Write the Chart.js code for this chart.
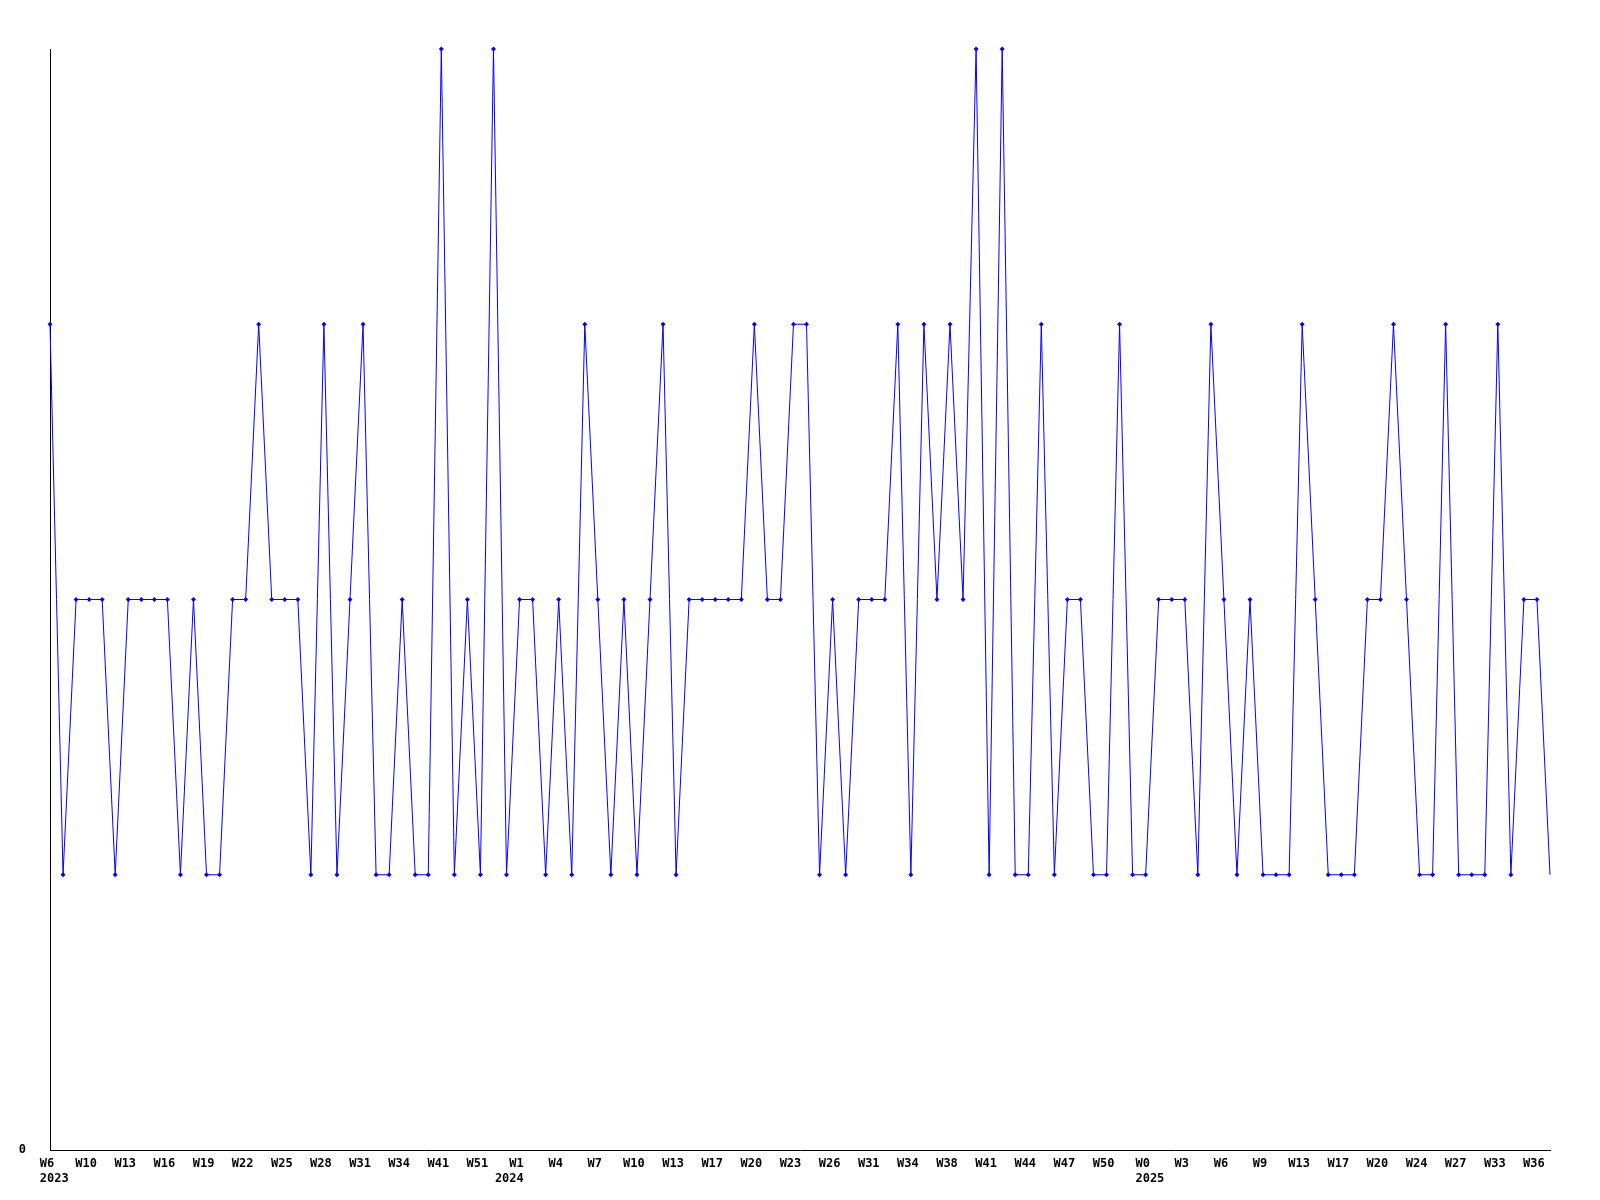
<!DOCTYPE html>
<html>
<head>
<meta charset="utf-8">
<script src="https://cdn.jsdelivr.net/npm/chart.js@4/dist/chart.umd.min.js"></script>
<style>
  html, body { margin: 0; padding: 0; background: #ffffff; }
  #wrap { position: relative; width: 1600px; height: 1200px; }
</style>
</head>
<body>
<div id="wrap"><canvas id="c" width="1600" height="1200"></canvas></div>
<script>
// Week categories (one per data point)
const weeks = [
  'W6','W7','W8','W10','W11','W12','W13','W14','W15','W16','W17','W18','W19','W20','W21','W22','W23','W24','W25','W26',
  'W27','W28','W29','W30','W31','W32','W33','W34','W36','W39','W41','W44','W48','W51','W52',
  'W0','W1','W2','W3','W4','W5','W6','W7','W8','W9','W10','W11','W12','W13','W14','W15','W17','W18','W19','W20',
  'W21','W22','W23','W24','W25','W26','W28','W30','W31','W32','W33','W34','W35','W37','W38','W39','W40','W41','W42',
  'W43','W44','W45','W46','W47','W48','W49','W50','W51','W52',
  'W0','W1','W2','W3','W4','W5','W6','W7','W8','W9','W10','W12','W13','W14','W16','W17','W18','W19','W20','W21',
  'W23','W24','W25','W26','W27','W29','W31','W33','W34','W35','W36','W37'
];
// Year shown under the first labelled week of each year: [category index, year text]
const yearTicks = [[0, '  2023'], [36, '2024  '], [84, '  2025']];
// Values per week
const values = [
  3,1,2,2,2,1,2,2,2,2, 1,2,1,1,2,2,3,2,2,2,
  1,3,1,2,3,1,1,2,1,1, 4,1,2,1,4,1,2,2,1,2,
  1,3,2,1,2,1,2,3,1,2, 2,2,2,2,3,2,2,3,3,1,
  2,1,2,2,2,3,1,3,2,3, 2,4,1,4,1,1,3,1,2,2,
  1,1,3,1,1,2,2,2,1,3, 2,1,2,1,1,1,3,2,1,1,
  1,2,2,3,2,1,1,3,1,1, 1,3,1,2,2,1
];
const labelEvery = 3;
const yTickShown = [0];

const yearMap = Object.fromEntries(yearTicks);
const FONT = { family: '"DejaVu Sans Mono", "Liberation Mono", monospace', size: 12, weight: 'bold', lineHeight: 1.25 };

new Chart(document.getElementById('c'), {
  type: 'line',
  data: {
    labels: weeks,
    datasets: [{
      data: values,
      borderColor: '#0000ff',
      backgroundColor: '#0000ff',
      borderWidth: 1,
      tension: 0,
      fill: false,
      pointStyle: 'rectRot',
      pointRadius: (ctx) => ctx.dataIndex === values.length - 1 ? 0 : 2.5,
      pointBorderWidth: 0,
      pointBackgroundColor: '#0000ff',
      clip: false
    }]
  },
  options: {
    responsive: false,
    animation: false,
    devicePixelRatio: 1,
    layout: { padding: { left: 0, right: 50, top: 49, bottom: 0 } },
    plugins: { legend: { display: false }, tooltip: { enabled: false } },
    scales: {
      x: {
        type: 'category',
        offset: false,
        grid: { display: false, drawTicks: false },
        border: { display: true, color: '#000000', width: 1 },
        ticks: {
          autoSkip: false,
          maxRotation: 0,
          minRotation: 0,
          padding: 6,
          labelOffset: -3,
          color: '#000000',
          font: FONT,
          callback: function(value, index) {
            if (index % labelEvery !== 0) return '';
            const w = weeks[index];
            return yearMap[index] ? [w, yearMap[index]] : w;
          }
        },
        afterFit: (s) => { s.height = 50; }
      },
      y: {
        min: 0,
        max: 4,
        grid: { display: false, drawTicks: false },
        border: { display: true, color: '#000000', width: 1 },
        ticks: {
          stepSize: 1,
          padding: 24,
          color: '#000000',
          font: FONT,
          callback: (v) => yTickShown.includes(v) ? String(v) : ''
        },
        afterFit: (s) => { s.width = 50; }
      }
    }
  }
});
</script>
</body>
</html>
